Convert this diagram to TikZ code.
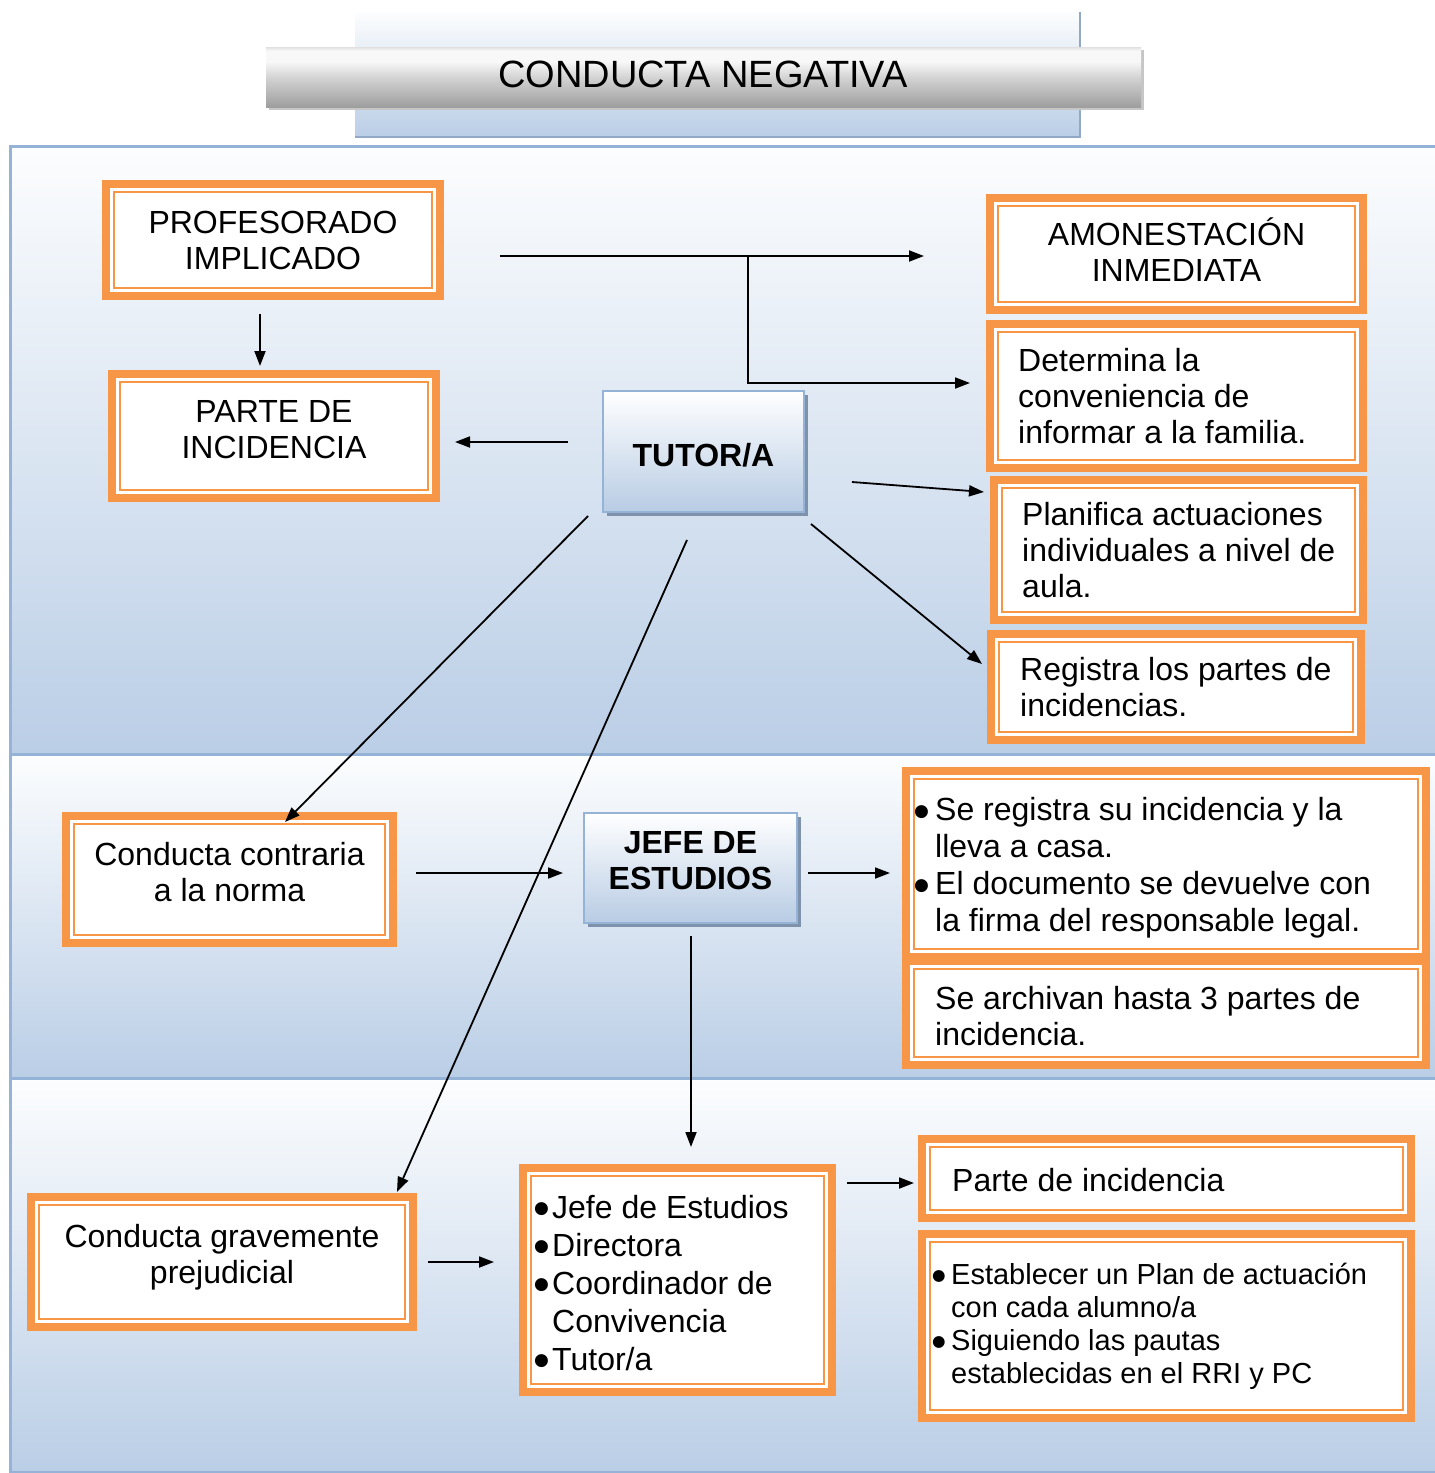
\documentclass[tikz,border=0pt]{standalone}
\usepackage{fontspec}
\setmainfont{Liberation Sans}
\newfontfamily\dvfont{DejaVu Sans}
\usetikzlibrary{arrows.meta,shadows}
\definecolor{ora}{HTML}{F79646}
\definecolor{bandtop}{HTML}{FCFDFE}
\definecolor{bandbot}{HTML}{BACEE6}
\definecolor{bord}{HTML}{95B3D7}
\definecolor{shad}{HTML}{7F92AC}
\definecolor{boxbot}{HTML}{B8CCE4}
\definecolor{tbA}{HTML}{9E9E9E}
\definecolor{tbB}{HTML}{D4D4D4}
\definecolor{tbC}{HTML}{F8F8F8}
\definecolor{tbD}{HTML}{E0E0E0}
\pgfdeclareverticalshading{titlebar}{100bp}{color(0bp)=(tbA); color(25bp)=(tbA); color(50bp)=(tbB); color(63bp)=(tbC); color(72bp)=(tbC); color(75bp)=(tbD); color(100bp)=(tbD)}
\newcommand{\bigdot}{\makebox[0pt][l]{\raisebox{4.5pt}{\dvfont\fontsize{17}{17}\selectfont ●}}}
\newcommand{\smalldot}{\makebox[0pt][l]{\raisebox{4pt}{\dvfont\fontsize{15.5}{15.5}\selectfont ●}}}
\newcommand{\bulA}{\makebox[21pt][l]{\bigdot}}
\newcommand{\indA}{\hspace*{21pt}}
\newcommand{\bulB}{\makebox[18pt][l]{\bigdot}}
\newcommand{\indB}{\hspace*{18pt}}
\newcommand{\bulC}{\makebox[19pt][l]{\smalldot}}
\newcommand{\indC}{\hspace*{19pt}}
\tikzset{
  obox/.style={draw=ora, line width=8pt, fill=white, inner sep=0pt,
    path picture={\draw[ora, line width=2pt]
      ([shift={(8pt,8pt)}]path picture bounding box.south west) rectangle
      ([shift={(-8pt,-8pt)}]path picture bounding box.north east);}},
  bbox/.style={draw=bord, line width=2pt, top color=white, bottom color=boxbot,
    inner sep=0pt, general shadow={fill=shad, shadow xshift=4pt, shadow yshift=-4pt}},
  btext/.style={font=\fontsize{32}{36}\selectfont\bfseries, align=center, inner sep=0pt},
  ctext/.style={font=\fontsize{32}{36}\selectfont, align=center, inner sep=0pt},
  ltext/.style={font=\fontsize{32}{36}\selectfont, align=left, inner sep=0pt, anchor=west},
  band/.style={draw=bord, line width=3pt, top color=bandtop, bottom color=bandbot},
  arr/.style={line width=1.8pt, -{Triangle[length=15pt,width=11pt]}}
}
\begin{document}
\begin{tikzpicture}[x=1pt,y=-1pt]
\useasboundingbox (0,0) rectangle (1435,1473);
% bands
\path[band] (10,146) rectangle (1440,754);
\path[band] (10,754) rectangle (1440,1078);
\path[band] (10,1078) rectangle (1440,1472);
% title
\shade[top color=bandtop, bottom color=bandbot] (355,12) rectangle (1080,137);
\draw[bord!80!gray, line width=1.5pt] (1080,12) -- (1080,137) -- (355,137);
\fill[gray!45] (269,50) rectangle (1144,110);
\shade[shading=titlebar] (266,47) rectangle (1141,107);
\node[font=\fontsize{38}{40}\selectfont] (title) at (703,74) {CONDUCTA NEGATIVA};
% orange boxes
\node[obox, minimum width=334pt, minimum height=112pt] (prof) at (273,240) {};
\node[ctext] (prof-t) at (273,240) {PROFESORADO\\IMPLICADO};
\node[obox, minimum width=324pt, minimum height=124pt] (parte) at (274,436) {};
\node[ctext] (parte-t) at ([yshift=6pt]parte.center) {PARTE DE\\INCIDENCIA};
\node[obox, minimum width=373pt, minimum height=112pt] (amon) at (1176.5,254) {};
\node[ctext] (amon-t) at ([yshift=4pt]amon.center) {AMONESTACIÓN\\INMEDIATA};
\node[obox, minimum width=373pt, minimum height=144pt] (det) at (1176.5,396) {};
\node[ltext] (det-t) at ([xshift=32pt]det.west) {Determina la\\conveniencia de\\informar a la familia.};
\node[obox, minimum width=369pt, minimum height=140pt] (plan) at (1178.5,550) {};
\node[ltext] (plan-t) at ([xshift=32pt]plan.west) {Planifica actuaciones\\individuales a nivel de\\aula.};
\node[obox, minimum width=370pt, minimum height=106pt] (reg) at (1176,687) {};
\node[ltext] (reg-t) at ([xshift=33pt]reg.west) {Registra los partes de\\incidencias.};
\node[obox, minimum width=327pt, minimum height=127pt] (cc) at (229.5,879.5) {};
\node[ctext] (cc-t) at ([yshift=7pt]cc.center) {Conducta contraria\\a la norma};
\node[obox, minimum width=520pt, minimum height=186pt] (sereg) at (1166,864) {};
\node[ltext, font=\fontsize{32}{37}\selectfont] (sereg-t) at ([xshift=12pt,yshift=-4pt]sereg.west) {\bulA Se registra su incidencia y la\\\indA lleva a casa.\\\bulA El documento se devuelve con\\\indA la firma del responsable legal.};
\node[obox, minimum width=520pt, minimum height=104pt] (arch) at (1166,1013) {};
\node[ltext] (arch-t) at ([xshift=33pt,yshift=-3pt]arch.west) {Se archivan hasta 3 partes de\\incidencia.};
\node[obox, minimum width=382pt, minimum height=130pt] (cg) at (222,1262) {};
\node[ctext] (cg-t) at ([yshift=5pt]cg.center) {Conducta gravemente\\prejudicial};
\node[obox, minimum width=309pt, minimum height=224pt] (list) at (677.5,1280) {};
\node[ltext, font=\fontsize{32}{38}\selectfont] (list-t) at ([xshift=15pt,yshift=-3pt]list.west) {\bulB Jefe de Estudios\\\bulB Directora\\\bulB Coordinador de\\\indB Convivencia\\\bulB Tutor/a};
\node[obox, minimum width=489pt, minimum height=79pt] (pi) at (1166.5,1178.5) {};
\node[ltext] (pi-t) at ([xshift=34pt,yshift=-2pt]pi.west) {Parte de incidencia};
\node[obox, minimum width=489pt, minimum height=184pt] (est) at (1166.5,1326) {};
\node[ltext, font=\fontsize{29}{33}\selectfont] (est-t) at ([xshift=14pt]est.west) {\bulC Establecer un Plan de actuación\\\indC con cada alumno/a\\\bulC Siguiendo las pautas\\\indC establecidas en el RRI y PC};
% blue boxes
\node[bbox, minimum width=201pt, minimum height=121pt] (tutor) at (703.5,451.5) {};
\node[btext] (tutor-t) at ([yshift=-4pt]tutor.center) {TUTOR/A};
\node[bbox, minimum width=213pt, minimum height=110pt] (jefe) at (690.5,868) {};
\node[btext] (jefe-t) at ([yshift=7pt]jefe.center) {JEFE DE\\ESTUDIOS};
% arrow end points
\coordinate (a1s) at (500,256); \coordinate (a1e) at (924,256);
\coordinate (a2s) at (748,256); \coordinate (a2m) at (748,383); \coordinate (a2e) at (970,383);
\coordinate (a3s) at (260,314); \coordinate (a3e) at (260,366);
\coordinate (a4s) at (568,442); \coordinate (a4e) at (455,442);
\coordinate (a5s) at (852,482); \coordinate (a5e) at (984,492);
\coordinate (a6s) at (811,524); \coordinate (a6e) at (982,664);
\coordinate (a7s) at (588,516); \coordinate (a7e) at (285,822);
\coordinate (a8s) at (687,540); \coordinate (a8e) at (397,1192);
\coordinate (a9s) at (416,873); \coordinate (a9e) at (563,873);
\coordinate (a10s) at (808,873); \coordinate (a10e) at (890,873);
\coordinate (a11s) at (691,936); \coordinate (a11e) at (691,1147);
\coordinate (a12s) at (428,1262); \coordinate (a12e) at (494,1262);
\coordinate (a13s) at (847,1183); \coordinate (a13e) at (914,1183);
% arrows
\draw[arr] (a1s) -- (a1e);
\draw[arr] (a2s) -- (a2m) -- (a2e);
\draw[arr] (a3s) -- (a3e);
\draw[arr] (a4s) -- (a4e);
\draw[arr] (a5s) -- (a5e);
\draw[arr] (a6s) -- (a6e);
\draw[arr] (a7s) -- (a7e);
\draw[arr] (a8s) -- (a8e);
\draw[arr] (a9s) -- (a9e);
\draw[arr] (a10s) -- (a10e);
\draw[arr] (a11s) -- (a11e);
\draw[arr] (a12s) -- (a12e);
\draw[arr] (a13s) -- (a13e);
\end{tikzpicture}
\end{document}
